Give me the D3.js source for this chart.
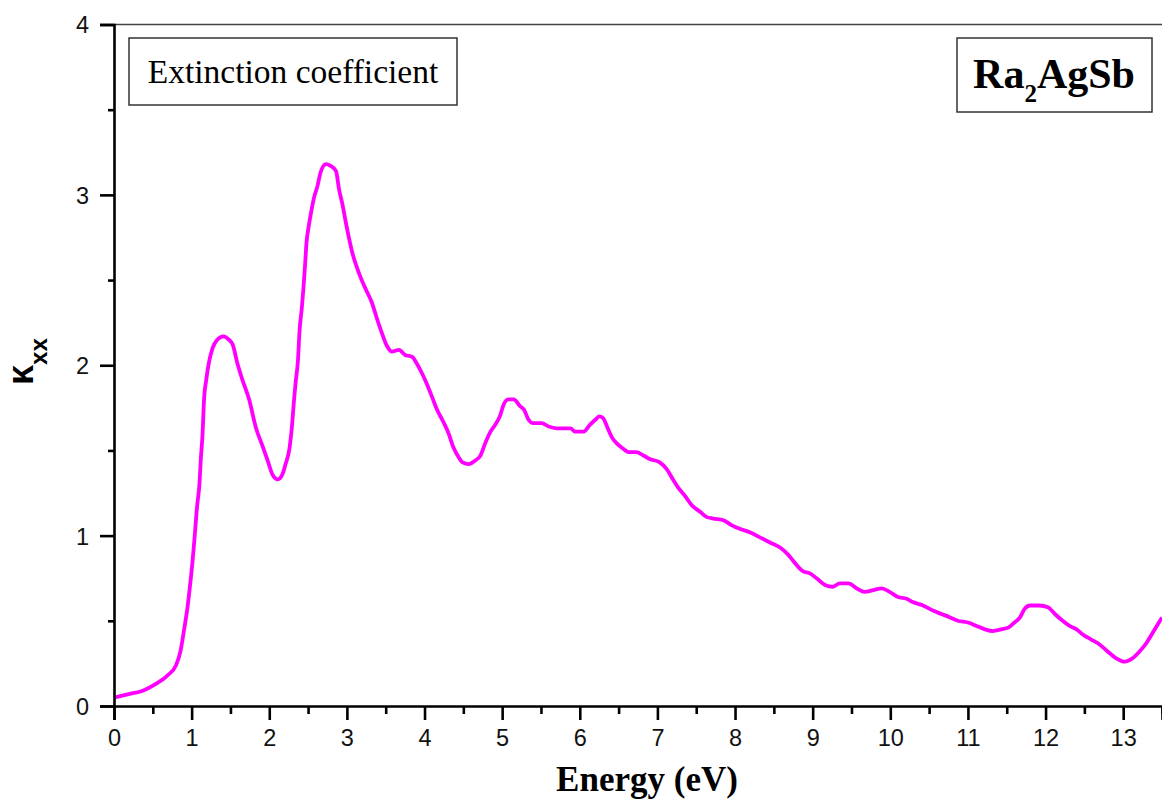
<!DOCTYPE html>
<html>
<head>
<meta charset="utf-8">
<script src="https://cdn.jsdelivr.net/npm/d3@7"></script>
<style>
  html, body { margin: 0; padding: 0; background: #fff; }
  svg { display: block; }
  .tick text { font-family: "Liberation Sans", Arial, sans-serif; font-size: 23.5px; fill: #111; }
</style>
</head>
<body>
<svg id="chart" width="1162" height="802"></svg>
<script>
// Photon energy (eV)
const energy = [
  0.00, 0.19, 0.37, 0.54, 0.69, 0.80, 0.86, 0.90, 0.95, 0.98,
  1.01, 1.04, 1.07, 1.10, 1.12, 1.14, 1.16, 1.19, 1.22, 1.27,
  1.33, 1.41, 1.48, 1.53, 1.59, 1.65, 1.74, 1.83, 1.91, 1.98,
  2.04, 2.11, 2.17, 2.21, 2.26, 2.29, 2.32, 2.34, 2.37, 2.39,
  2.42, 2.44, 2.46, 2.48, 2.51, 2.54, 2.58, 2.62, 2.66, 2.73,
  2.79, 2.86, 2.90, 2.94, 2.99, 3.03, 3.07, 3.14, 3.20, 3.26,
  3.32, 3.39, 3.45, 3.52, 3.58, 3.67, 3.75, 3.84, 3.90, 3.97,
  4.03, 4.10, 4.16, 4.24, 4.31, 4.37, 4.44, 4.49, 4.57, 4.65,
  4.72, 4.78, 4.85, 4.91, 4.97, 5.02, 5.08, 5.15, 5.23, 5.28,
  5.34, 5.40, 5.51, 5.60, 5.70, 5.88, 5.94, 6.05, 6.13, 6.20,
  6.25, 6.30, 6.36, 6.41, 6.48, 6.56, 6.63, 6.73, 6.82, 6.90,
  7.03, 7.12, 7.20, 7.27, 7.36, 7.44, 7.55, 7.63, 7.72, 7.85,
  7.96, 8.06, 8.19, 8.32, 8.45, 8.58, 8.68, 8.77, 8.88, 8.96,
  9.05, 9.16, 9.26, 9.35, 9.46, 9.57, 9.67, 9.78, 9.89, 9.99,
  10.10, 10.21, 10.29, 10.42, 10.55, 10.66, 10.77, 10.87, 11.00, 11.11,
  11.22, 11.32, 11.43, 11.52, 11.60, 11.67, 11.73, 11.80, 11.92, 12.03,
  12.12, 12.22, 12.31, 12.40, 12.48, 12.59, 12.70, 12.80, 12.91, 13.02,
  13.12, 13.21, 13.30, 13.38, 13.50
];

// Extinction coefficient k_xx
const kappa = [
  0.05, 0.07, 0.09, 0.13, 0.18, 0.24, 0.33, 0.44, 0.59, 0.71,
  0.84, 1.00, 1.17, 1.30, 1.46, 1.59, 1.80, 1.92, 2.01, 2.10,
  2.15, 2.17, 2.15, 2.12, 2.01, 1.92, 1.80, 1.63, 1.53, 1.44,
  1.36, 1.33, 1.36, 1.42, 1.51, 1.63, 1.80, 1.90, 2.03, 2.20,
  2.34, 2.45, 2.58, 2.72, 2.82, 2.90, 2.99, 3.05, 3.13, 3.18,
  3.17, 3.14, 3.03, 2.95, 2.83, 2.74, 2.66, 2.56, 2.49, 2.43,
  2.37, 2.27, 2.19, 2.11, 2.08, 2.09, 2.06, 2.05, 2.01, 1.95,
  1.89, 1.81, 1.74, 1.67, 1.60, 1.52, 1.46, 1.43, 1.42, 1.44,
  1.47, 1.54, 1.61, 1.65, 1.70, 1.77, 1.80, 1.80, 1.76, 1.74,
  1.68, 1.66, 1.66, 1.64, 1.63, 1.63, 1.61, 1.61, 1.65, 1.68,
  1.70, 1.69, 1.63, 1.58, 1.54, 1.51, 1.49, 1.49, 1.47, 1.45,
  1.43, 1.39, 1.33, 1.28, 1.23, 1.18, 1.14, 1.11, 1.10, 1.09,
  1.06, 1.04, 1.02, 0.99, 0.96, 0.93, 0.89, 0.84, 0.79, 0.78,
  0.75, 0.71, 0.70, 0.72, 0.72, 0.69, 0.67, 0.68, 0.69, 0.67,
  0.64, 0.63, 0.61, 0.59, 0.56, 0.54, 0.52, 0.50, 0.49, 0.47,
  0.45, 0.44, 0.45, 0.46, 0.49, 0.52, 0.57, 0.59, 0.59, 0.58,
  0.54, 0.50, 0.47, 0.45, 0.42, 0.39, 0.36, 0.32, 0.28, 0.26,
  0.28, 0.32, 0.37, 0.43, 0.52
];

const xMajorTicks = [0, 1, 2, 3, 4, 5, 6, 7, 8, 9, 10, 11, 12, 13];
const xMinorTicks = [0.5, 1.5, 2.5, 3.5, 4.5, 5.5, 6.5, 7.5, 8.5, 9.5, 10.5, 11.5, 12.5, 13.5];
const yMajorTicks = [0, 1, 2, 3, 4];
const yMinorTicks = [0.5, 1.5, 2.5, 3.5];

const margin = { left: 114, right: 0, top: 24.5, bottom: 96 };
const W = 1162, H = 802;

const svg = d3.select("#chart");

const x = d3.scaleLinear().domain([0, 13.5]).range([margin.left, W - margin.right]);
const y = d3.scaleLinear().domain([0, 4]).range([H - margin.bottom, margin.top]);

// Top frame line
svg.append("line")
  .attr("x1", margin.left).attr("x2", W)
  .attr("y1", y(4)).attr("y2", y(4))
  .attr("stroke", "#444").attr("stroke-width", 1.6);

// Curve
const line = d3.line()
  .x((d, i) => x(energy[i]))
  .y(d => y(d))
  .curve(d3.curveMonotoneX);

svg.append("path")
  .datum(kappa)
  .attr("fill", "none")
  .attr("stroke", "#ff00ff")
  .attr("stroke-width", 3.8)
  .attr("stroke-linejoin", "round")
  .attr("d", line);

// Axes
function styleAxis(g) {
  g.selectAll("path.domain").attr("stroke", "#000").attr("stroke-width", 2.6);
  g.selectAll(".tick line").attr("stroke", "#000").attr("stroke-width", 2.6);
}

const xMinor = svg.append("g")
  .attr("transform", `translate(0,${y(0)})`)
  .call(d3.axisBottom(x).tickValues(xMinorTicks).tickSize(8).tickFormat(""));
xMinor.select("path.domain").remove();
styleAxis(xMinor);

const xAxis = svg.append("g")
  .attr("transform", `translate(0,${y(0)})`)
  .call(d3.axisBottom(x).tickValues(xMajorTicks).tickSizeOuter(0).tickSize(14).tickPadding(9).tickFormat(d3.format("d")));
styleAxis(xAxis);

const yMinor = svg.append("g")
  .attr("transform", `translate(${x(0)},0)`)
  .call(d3.axisLeft(y).tickValues(yMinorTicks).tickSize(6).tickFormat(""));
yMinor.select("path.domain").remove();
styleAxis(yMinor);

const yAxis = svg.append("g")
  .attr("transform", `translate(${x(0)},0)`)
  .call(d3.axisLeft(y).tickValues(yMajorTicks).tickSizeOuter(0).tickSize(14).tickPadding(11).tickFormat(d3.format("d")));
styleAxis(yAxis);
yAxis.selectAll(".tick text").attr("dy", "0.36em");

// Axis titles
svg.append("text")
  .attr("x", 647).attr("y", 791)
  .attr("text-anchor", "middle")
  .style("font-family", "'Liberation Serif', 'Times New Roman', serif")
  .style("font-weight", "bold")
  .style("font-size", "35px")
  .attr("fill", "#000")
  .text("Energy (eV)");

const yTitle = svg.append("text")
  .attr("transform", "translate(33,385) rotate(-90)")
  .attr("text-anchor", "start")
  .style("font-family", "'Liberation Sans', Arial, sans-serif")
  .style("font-weight", "bold")
  .attr("fill", "#000");
yTitle.append("tspan").style("font-size", "36px").text("κ");
yTitle.append("tspan").style("font-size", "24px").attr("dy", 14).text("xx");

// Label boxes
svg.append("rect")
  .attr("x", 129).attr("y", 38).attr("width", 328).attr("height", 67)
  .attr("fill", "#fff").attr("stroke", "#333").attr("stroke-width", 1.5);
svg.append("text")
  .attr("x", 293).attr("y", 83)
  .attr("text-anchor", "middle")
  .style("font-family", "'Liberation Serif', 'Times New Roman', serif")
  .style("font-size", "33.5px")
  .style("font-variant-ligatures", "none")
  .attr("fill", "#000")
  .text("Extinction coefficient");

svg.append("rect")
  .attr("x", 957).attr("y", 38).attr("width", 195).attr("height", 74)
  .attr("fill", "#fff").attr("stroke", "#333").attr("stroke-width", 1.5);
const formula = svg.append("text")
  .attr("x", 1054).attr("y", 88)
  .attr("text-anchor", "middle")
  .style("font-family", "'Liberation Serif', 'Times New Roman', serif")
  .style("font-weight", "bold")
  .style("font-size", "42px")
  .attr("fill", "#000");
formula.append("tspan").text("Ra");
formula.append("tspan").style("font-size", "25px").attr("dy", 14).text("2");
formula.append("tspan").attr("dy", -14).text("AgSb");
</script>
</body>
</html>
